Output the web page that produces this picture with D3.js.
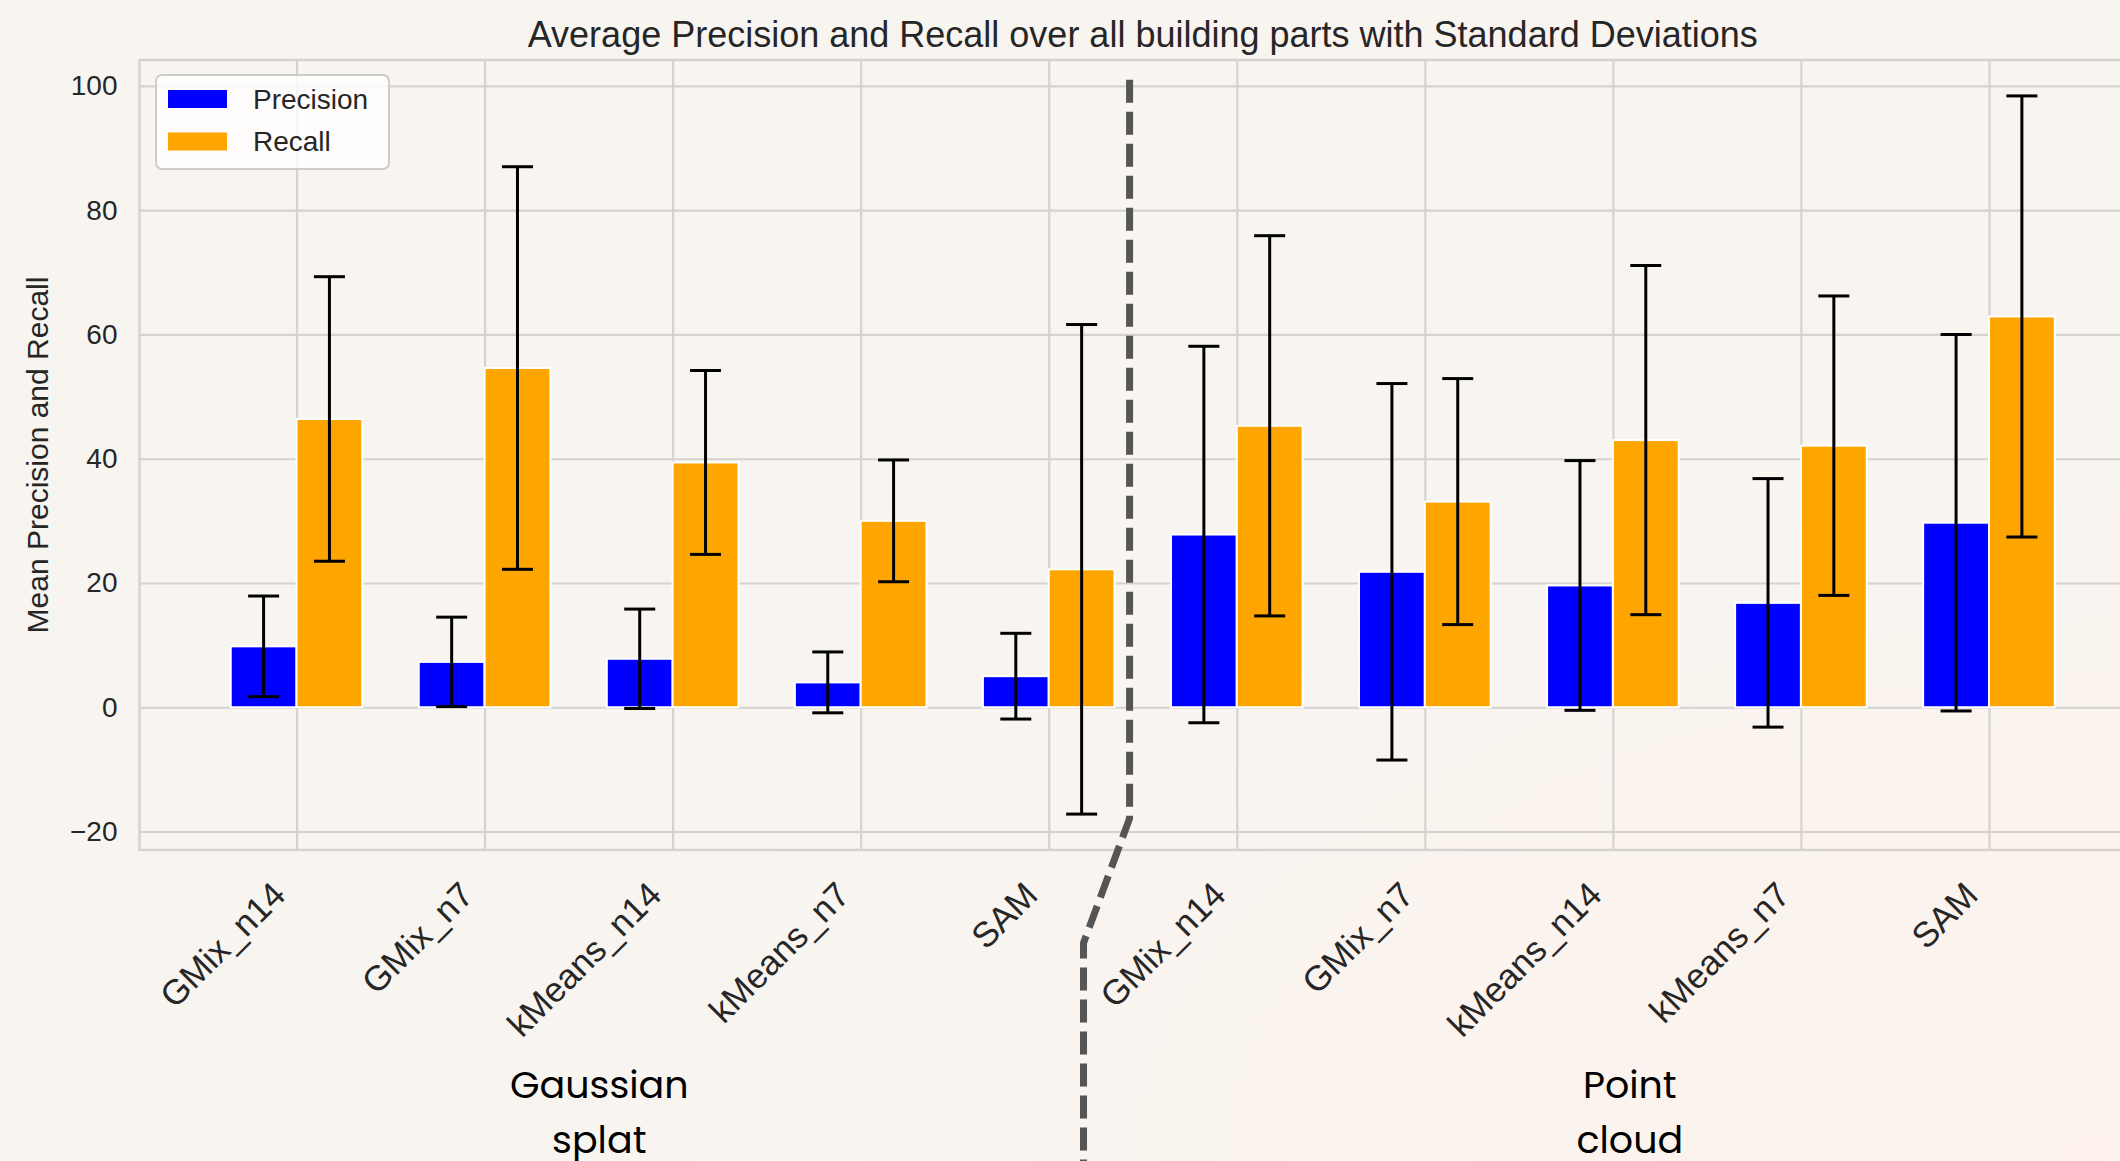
<!DOCTYPE html>
<html>
<head>
<meta charset="utf-8">
<script src="https://cdn.jsdelivr.net/npm/d3@7"></script>
<style>
  html, body { margin: 0; padding: 0; background: #f8f5f1; }
  svg { display: block; }
</style>
</head>
<body>
<svg id="chart" width="2120" height="1161"></svg>
<script>
// Segmentation methods, per data source
const categories = ["GMix_n14", "GMix_n7", "kMeans_n14", "kMeans_n7", "SAM",
                    "GMix_n14", "GMix_n7", "kMeans_n14", "kMeans_n7", "SAM"];
const groupNames = [["Gaussian", "splat"], ["Point", "cloud"]];

// Mean precision / recall (%) and their standard deviations
const precisionMean = [9.8, 7.3, 7.8, 4.0, 5.0, 27.8, 21.8, 19.6, 16.8, 29.7];
const precisionStd  = [8.1, 7.2, 8.0, 4.9, 6.9, 30.3, 30.3, 20.1, 20.0, 30.3];
const recallMean    = [46.4, 54.6, 39.4, 30.0, 22.2, 45.3, 33.1, 43.0, 42.1, 62.9];
const recallStd     = [22.9, 32.4, 14.8, 9.8, 39.4, 30.6, 19.8, 28.1, 24.1, 35.5];

const yTicks = [-20, 0, 20, 40, 60, 80, 100];
const seriesNames = ["Precision", "Recall"];
const seriesColors = ["#0000ff", "#ffa500"];

const W = 2120, H = 1161;
const plot = { left: 139.5, right: 2146, top: 60, bottom: 850 };
const barW = 0.35;

const svg = d3.select("#chart");

// soft warm background tint
const defs = svg.append("defs");
const bg = defs.append("radialGradient").attr("id", "bgTint")
  .attr("cx", "100%").attr("cy", "100%").attr("r", "70%");
bg.append("stop").attr("offset", "0%").attr("stop-color", "#fdf2ec");
bg.append("stop").attr("offset", "100%").attr("stop-color", "#f8f5f1");
svg.append("rect").attr("width", W).attr("height", H).attr("fill", "url(#bgTint)");

// scales: matplotlib-style 5% margins around the data extent
const xMin = -barW, xMax = categories.length - 1 + barW;
const xPad = (xMax - xMin) * 0.05;
const x = d3.scaleLinear().domain([xMin - xPad, xMax + xPad]).range([plot.left, plot.right]);

const lows = precisionMean.map((m, i) => m - precisionStd[i]).concat(recallMean.map((m, i) => m - recallStd[i]));
const highs = precisionMean.map((m, i) => m + precisionStd[i]).concat(recallMean.map((m, i) => m + recallStd[i]));
const yLo = Math.min(0, d3.min(lows)), yHi = d3.max(highs);
const yPad = (yHi - yLo) * 0.05;
const y = d3.scaleLinear().domain([yLo - yPad, yHi + yPad]).range([plot.bottom, plot.top]);

const gridColor = "#d5d2cf";
const textColor = "#262626";
const font = "'Liberation Sans', Arial, sans-serif";

const g = svg.append("g");

// grid
const yAxis = d3.axisLeft(y).tickValues(yTicks).tickSize(-(plot.right - plot.left)).tickPadding(22)
  .tickFormat(d => d < 0 ? "\u2212" + Math.abs(d) : d);
const yg = g.append("g").attr("transform", `translate(${plot.left},0)`).call(yAxis);
yg.select(".domain").remove();
yg.selectAll(".tick line").attr("stroke", gridColor).attr("stroke-width", 2.2);
yg.selectAll(".tick text").attr("font-family", font).attr("font-size", 28).attr("fill", textColor);

const xAxis = d3.axisBottom(x).tickValues(d3.range(categories.length))
  .tickSize(-(plot.bottom - plot.top)).tickFormat("");
const xg = g.append("g").attr("transform", `translate(0,${plot.bottom})`).call(xAxis);
xg.select(".domain").remove();
xg.selectAll(".tick line").attr("stroke", gridColor).attr("stroke-width", 2.2);

// spines
g.append("rect").attr("x", plot.left).attr("y", plot.top)
  .attr("width", plot.right - plot.left).attr("height", plot.bottom - plot.top)
  .attr("fill", "none").attr("stroke", gridColor).attr("stroke-width", 2.5);

// bars
const series = [
  { mean: precisionMean, std: precisionStd, offset: -barW },
  { mean: recallMean, std: recallStd, offset: 0 }
];
series.forEach((s, si) => {
  g.append("g").selectAll("rect").data(s.mean).join("rect")
    .attr("x", (d, i) => x(i + s.offset))
    .attr("width", x(barW) - x(0))
    .attr("y", d => y(Math.max(0, d)))
    .attr("height", d => Math.abs(y(d) - y(0)))
    .attr("fill", seriesColors[si])
    .attr("stroke", "#ffffff").attr("stroke-width", 2);
});

// error bars
const cap = 15.5;
series.forEach((s, si) => {
  const eg = g.append("g").attr("stroke", "#000").attr("stroke-width", 3).attr("fill", "none");
  s.mean.forEach((m, i) => {
    const cx = x(i + s.offset + barW / 2);
    const lo = y(m - s.std[i]), hi = y(m + s.std[i]);
    eg.append("line").attr("x1", cx).attr("x2", cx).attr("y1", lo).attr("y2", hi);
    eg.append("line").attr("x1", cx - cap).attr("x2", cx + cap).attr("y1", lo).attr("y2", lo);
    eg.append("line").attr("x1", cx - cap).attr("x2", cx + cap).attr("y1", hi).attr("y2", hi);
  });
});

// category labels, rotated
g.append("g").selectAll("text").data(categories).join("text")
  .attr("transform", (d, i) => `translate(${x(i) - 9},${plot.bottom + 47}) rotate(-45)`)
  .attr("text-anchor", "end")
  .attr("font-family", font).attr("font-size", 35).attr("fill", textColor)
  .text(d => d);

// y label
svg.append("text")
  .attr("transform", `translate(48,${(plot.top + plot.bottom) / 2}) rotate(-90)`)
  .attr("text-anchor", "middle")
  .attr("font-family", font).attr("font-size", 30).attr("fill", textColor)
  .text("Mean Precision and Recall");

// title
svg.append("text")
  .attr("x", (plot.left + plot.right) / 2).attr("y", 47)
  .attr("text-anchor", "middle")
  .attr("font-family", font).attr("font-size", 36).attr("fill", textColor)
  .text("Average Precision and Recall over all building parts with Standard Deviations");

// legend
const lg = svg.append("g").attr("transform", "translate(156,75)");
lg.append("rect").attr("width", 233).attr("height", 94).attr("rx", 6)
  .attr("fill", "rgba(255,255,255,0.8)").attr("stroke", "#cccccc").attr("stroke-width", 2);
seriesNames.forEach((name, i) => {
  lg.append("rect").attr("x", 12).attr("y", 15 + i * 42.5).attr("width", 59).attr("height", 18)
    .attr("fill", seriesColors[i]);
  lg.append("text").attr("x", 97).attr("y", 24 + i * 42.5).attr("dy", "0.35em")
    .attr("font-family", font).attr("font-size", 28).attr("fill", textColor).text(name);
});

// divider between the two data sources
const yBreak = -17.9;
const divider = [
  [x(4.43), y(101)],
  [x(4.43), y(yBreak)],
  [x(4.185), 943],
  [x(4.185), H]
];
svg.append("path")
  .attr("d", d3.line()(divider))
  .attr("fill", "none").attr("stroke", "#555555").attr("stroke-width", 7)
  .attr("stroke-dasharray", "23 9");

// group labels
const groupX = [x(1.61), x(7.09)];
groupNames.forEach((lines, gi) => {
  const t = svg.append("text").attr("text-anchor", "middle")
    .attr("font-family", "Poppins, 'DejaVu Sans', sans-serif").attr("font-size", 38).attr("fill", "#000");
  lines.forEach((ln, li) => {
    t.append("tspan").attr("x", groupX[gi]).attr("y", 1098 + li * 55).text(ln);
  });
});
</script>
</body>
</html>
